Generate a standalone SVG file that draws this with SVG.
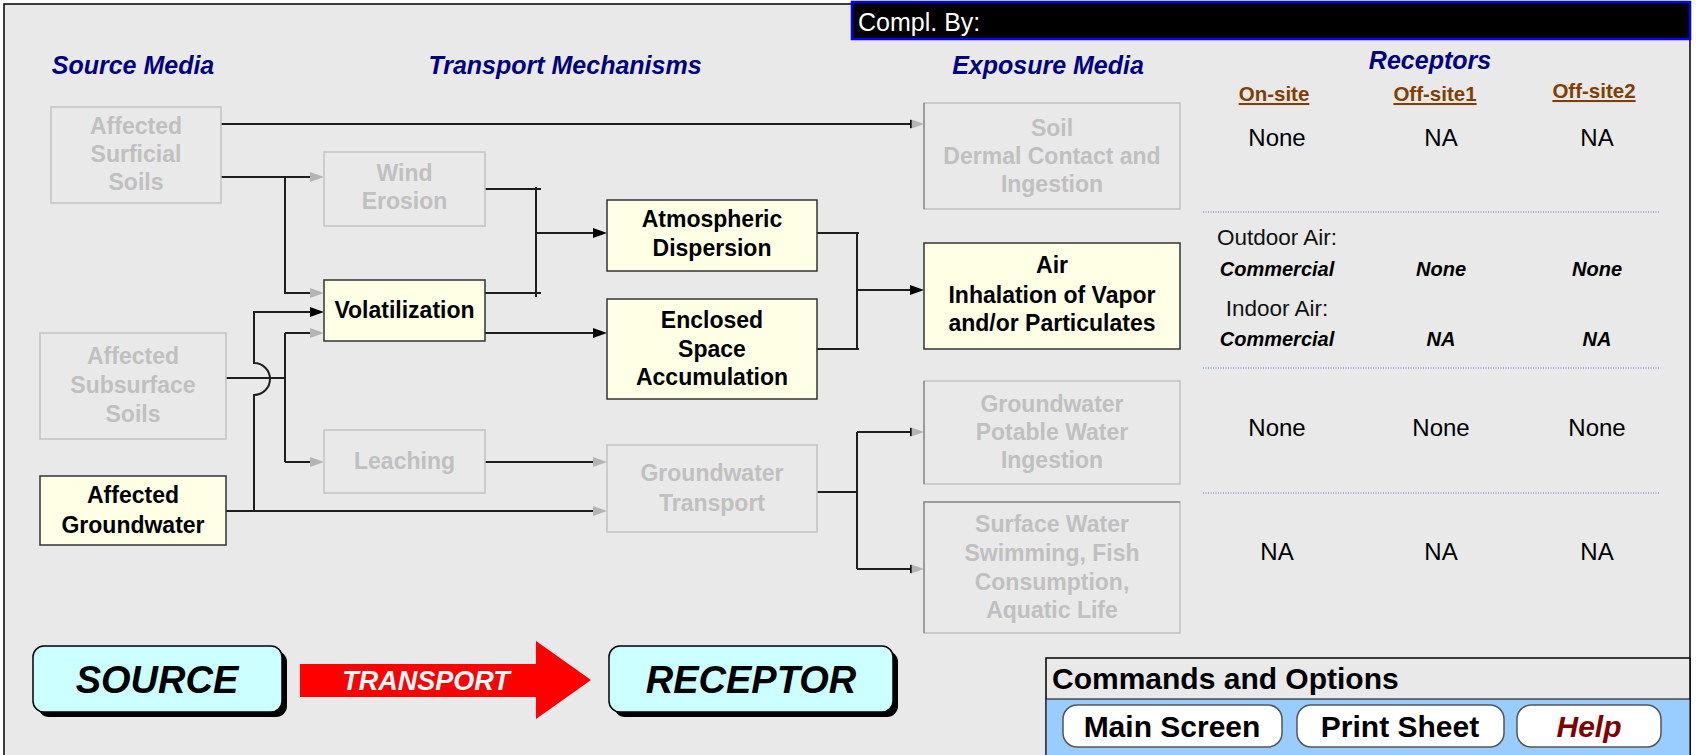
<svg xmlns="http://www.w3.org/2000/svg" width="1699" height="755" viewBox="0 0 1699 755">
  <defs>
    <style>
      .t { font-family: "Liberation Sans", Arial, sans-serif; }
      .head { font-family: "Liberation Sans", Arial, sans-serif; font-size: 25px; font-weight: bold; font-style: italic; fill: #000080; }
      .col { font-family: "Liberation Sans", Arial, sans-serif; font-size: 20.5px; font-weight: bold; fill: #7f3f00; text-decoration: underline; }
      .val { font-family: "Liberation Sans", Arial, sans-serif; font-size: 24px; fill: #000; }
      .sub { font-family: "Liberation Sans", Arial, sans-serif; font-size: 22.5px; fill: #111; }
      .bi { font-family: "Liberation Sans", Arial, sans-serif; font-size: 20px; font-weight: bold; font-style: italic; fill: #000; }
      .box-on { fill: #ffffe6; stroke: #333; stroke-width: 1.5; }
      .box-off { fill: #e9e9e9; stroke: #c2c2c2; stroke-width: 1.5; }
      .edge-off { stroke: #8a8a8a; stroke-width: 1.5; }
      .lbl-on { font-family: "Liberation Sans", Arial, sans-serif; font-size: 23px; font-weight: bold; fill: #000; text-anchor: middle; }
      .lbl-off { font-family: "Liberation Sans", Arial, sans-serif; font-size: 23px; font-weight: bold; fill: #c0c0c0; text-anchor: middle; }
      .wire { fill: none; stroke: #1e1e1e; stroke-width: 2; }
      .sep { stroke: #6b6bff; stroke-width: 1; stroke-dasharray: 1 1.5; }
      .btn { fill: #fff; stroke: #555; stroke-width: 1.5; }
      .btntxt { font-family: "Liberation Sans", Arial, sans-serif; font-size: 30px; font-weight: bold; text-anchor: middle; }
      .big { font-family: "Liberation Sans", Arial, sans-serif; font-size: 38px; font-weight: bold; font-style: italic; text-anchor: middle; fill: #000; }
    </style>
    <marker id="arrowOn" markerUnits="userSpaceOnUse" viewBox="0 0 14 10" refX="0" refY="5" markerWidth="14" markerHeight="10" orient="auto">
      <path d="M0,0 L14,5 L0,10 z" fill="#000"/>
    </marker>
    <marker id="arrowOff" markerUnits="userSpaceOnUse" viewBox="0 0 14 10" refX="0" refY="5" markerWidth="14" markerHeight="10" orient="auto">
      <path d="M0,0 L14,5 L0,10 z" fill="#b4b4b4"/>
    </marker>
    <marker id="arrowOffTick" markerUnits="userSpaceOnUse" viewBox="0 0 14 10" refX="0" refY="5" markerWidth="14" markerHeight="10" orient="auto">
      <path d="M0,0 L14,5 L0,10 z" fill="#b4b4b4"/>
      <path d="M0.8,1 V9" stroke="#000" stroke-width="1.6"/>
    </marker>
  </defs>

  <!-- page and frame -->
  <rect x="0" y="0" width="1699" height="755" fill="#ffffff"/>
  <rect x="4" y="4" width="1686" height="760" fill="#e9e9e9" stroke="#000" stroke-width="1.5"/>

  <!-- completed-by bar -->
  <g id="compl">
    <rect x="852" y="2" width="838" height="37" fill="#000" stroke="#0000ff" stroke-width="2.5"/>
    <text x="858" y="31" class="t" font-size="25" fill="#fff">Compl. By:</text>
  </g>

  <!-- column headings -->
  <g id="headings">
    <text x="133" y="74" class="head" text-anchor="middle">Source Media</text>
    <text x="565" y="74" class="head" text-anchor="middle">Transport Mechanisms</text>
    <text x="1048" y="74" class="head" text-anchor="middle">Exposure Media</text>
    <text x="1430" y="69" class="head" text-anchor="middle">Receptors</text>
  </g>

  <!-- connectors -->
  <g id="connectors">
    <!-- surficial soils -->
    <path class="wire" d="M221,124 H910" marker-end="url(#arrowOffTick)"/>
    <path class="wire" d="M221,177 H310" marker-end="url(#arrowOff)"/>
    <path class="wire" d="M285,176 V293 H310" marker-end="url(#arrowOff)"/>
    <!-- subsurface soils -->
    <path class="wire" d="M226,378 H285"/>
    <path class="wire" d="M285,333 V462"/>
    <path class="wire" d="M285,333 H310" marker-end="url(#arrowOff)"/>
    <path class="wire" d="M285,462 H310" marker-end="url(#arrowOff)"/>
    <!-- groundwater, hopping over the subsurface line -->
    <path class="wire" d="M226,511 H593" marker-end="url(#arrowOff)"/>
    <path class="wire" d="M254,511 V395 A16,16 0 0 0 254,363 V312 H310" marker-end="url(#arrowOn)"/>
    <!-- leaching -->
    <path class="wire" d="M485,462 H593" marker-end="url(#arrowOff)"/>
    <!-- wind erosion + volatilization to atmospheric dispersion -->
    <path class="wire" d="M485,189 H541"/>
    <path class="wire" d="M485,293 H541"/>
    <path class="wire" d="M536,187 V297"/>
    <path class="wire" d="M536,233 H593" marker-end="url(#arrowOn)"/>
    <!-- volatilization to enclosed space -->
    <path class="wire" d="M485,333 H593" marker-end="url(#arrowOn)"/>
    <!-- dispersion + accumulation to air -->
    <path class="wire" d="M817,233 H859"/>
    <path class="wire" d="M817,349 H859"/>
    <path class="wire" d="M857,232 V350"/>
    <path class="wire" d="M857,290 H910" marker-end="url(#arrowOn)"/>
    <!-- groundwater transport to water receptors -->
    <path class="wire" d="M817,492 H857"/>
    <path class="wire" d="M857,432 V569"/>
    <path class="wire" d="M857,432 H910" marker-end="url(#arrowOffTick)"/>
    <path class="wire" d="M857,569 H910" marker-end="url(#arrowOffTick)"/>
  </g>

  <!-- source media -->
  <g id="surficial-soils">
    <rect x="51" y="107" width="170" height="96" class="box-off"/>
    <text x="136" y="134" class="lbl-off">Affected</text>
    <text x="136" y="162" class="lbl-off">Surficial</text>
    <text x="136" y="190" class="lbl-off">Soils</text>
  </g>
  <g id="subsurface-soils">
    <rect x="40" y="333" width="186" height="106" class="box-off"/>
    <text x="133" y="364" class="lbl-off">Affected</text>
    <text x="133" y="393" class="lbl-off">Subsurface</text>
    <text x="133" y="422" class="lbl-off">Soils</text>
  </g>
  <g id="groundwater">
    <rect x="40" y="476" width="186" height="69" class="box-on"/>
    <text x="133" y="503" class="lbl-on">Affected</text>
    <text x="133" y="533" class="lbl-on">Groundwater</text>
  </g>

  <!-- transport mechanisms -->
  <g id="wind-erosion">
    <rect x="324" y="152" width="161" height="74" class="box-off"/>
    <text x="404.5" y="181" class="lbl-off">Wind</text>
    <text x="404.5" y="209" class="lbl-off">Erosion</text>
  </g>
  <g id="volatilization">
    <rect x="324" y="280" width="161" height="61" class="box-on"/>
    <text x="404.5" y="318" class="lbl-on">Volatilization</text>
  </g>
  <g id="leaching">
    <rect x="324" y="430" width="161" height="63" class="box-off"/>
    <text x="404.5" y="469" class="lbl-off">Leaching</text>
  </g>
  <g id="atmospheric-dispersion">
    <rect x="607" y="200" width="210" height="71" class="box-on"/>
    <text x="712" y="227" class="lbl-on">Atmospheric</text>
    <text x="712" y="256" class="lbl-on">Dispersion</text>
  </g>
  <g id="enclosed-space">
    <rect x="607" y="299" width="210" height="100" class="box-on"/>
    <text x="712" y="328" class="lbl-on">Enclosed</text>
    <text x="712" y="357" class="lbl-on">Space</text>
    <text x="712" y="385" class="lbl-on">Accumulation</text>
  </g>
  <g id="groundwater-transport">
    <rect x="607" y="445" width="210" height="87" class="box-off"/>
    <text x="712" y="481" class="lbl-off">Groundwater</text>
    <text x="712" y="511" class="lbl-off">Transport</text>
  </g>

  <!-- exposure media -->
  <g id="soil-exposure">
    <rect x="924" y="103" width="256" height="106" class="box-off"/>
    <line x1="924" y1="103" x2="924" y2="209" class="edge-off"/>
    <text x="1052" y="136" class="lbl-off">Soil</text>
    <text x="1052" y="164" class="lbl-off">Dermal Contact and</text>
    <text x="1052" y="192" class="lbl-off">Ingestion</text>
  </g>
  <g id="air-exposure">
    <rect x="924" y="243" width="256" height="106" class="box-on"/>
    <text x="1052" y="273" class="lbl-on">Air</text>
    <text x="1052" y="303" class="lbl-on">Inhalation of Vapor</text>
    <text x="1052" y="331" class="lbl-on">and/or Particulates</text>
  </g>
  <g id="groundwater-exposure">
    <rect x="924" y="381" width="256" height="103" class="box-off"/>
    <line x1="924" y1="381" x2="924" y2="484" class="edge-off"/>
    <text x="1052" y="412" class="lbl-off">Groundwater</text>
    <text x="1052" y="440" class="lbl-off">Potable Water</text>
    <text x="1052" y="468" class="lbl-off">Ingestion</text>
  </g>
  <g id="surface-water-exposure">
    <rect x="924" y="502" width="256" height="131" class="box-off"/>
    <path d="M1180,502 H924 V633" class="edge-off" fill="none"/>
    <text x="1052" y="532" class="lbl-off">Surface Water</text>
    <text x="1052" y="561" class="lbl-off">Swimming, Fish</text>
    <text x="1052" y="590" class="lbl-off">Consumption,</text>
    <text x="1052" y="618" class="lbl-off">Aquatic Life</text>
  </g>

  <!-- receptor table -->
  <g id="receptors">
    <text x="1274" y="101" class="col" text-anchor="middle">On-site</text>
    <text x="1435" y="101" class="col" text-anchor="middle">Off-site1</text>
    <text x="1594" y="98" class="col" text-anchor="middle">Off-site2</text>

    <text x="1277" y="146" class="val" text-anchor="middle">None</text>
    <text x="1441" y="146" class="val" text-anchor="middle">NA</text>
    <text x="1597" y="146" class="val" text-anchor="middle">NA</text>
    <line x1="1203" y1="212" x2="1659" y2="212" class="sep"/>

    <text x="1277" y="245" class="sub" text-anchor="middle">Outdoor Air:</text>
    <text x="1277" y="276" class="bi" text-anchor="middle">Commercial</text>
    <text x="1441" y="276" class="bi" text-anchor="middle">None</text>
    <text x="1597" y="276" class="bi" text-anchor="middle">None</text>
    <text x="1277" y="316" class="sub" text-anchor="middle">Indoor Air:</text>
    <text x="1277" y="346" class="bi" text-anchor="middle">Commercial</text>
    <text x="1441" y="346" class="bi" text-anchor="middle">NA</text>
    <text x="1597" y="346" class="bi" text-anchor="middle">NA</text>
    <line x1="1203" y1="368" x2="1659" y2="368" class="sep"/>

    <text x="1277" y="436" class="val" text-anchor="middle">None</text>
    <text x="1441" y="436" class="val" text-anchor="middle">None</text>
    <text x="1597" y="436" class="val" text-anchor="middle">None</text>
    <line x1="1203" y1="493" x2="1659" y2="493" class="sep"/>

    <text x="1277" y="560" class="val" text-anchor="middle">NA</text>
    <text x="1441" y="560" class="val" text-anchor="middle">NA</text>
    <text x="1597" y="560" class="val" text-anchor="middle">NA</text>
  </g>

  <!-- source / transport / receptor legend -->
  <g id="source-legend">
    <rect x="38" y="651" width="249" height="66" rx="11" fill="#000"/>
    <rect x="33" y="646" width="249" height="66" rx="11" fill="#ccffff" stroke="#000" stroke-width="1.5"/>
    <text x="157" y="693" class="big">SOURCE</text>
  </g>
  <g id="transport-legend">
    <path d="M300,664 H536 V641 L591,680 L536,719 V697 H300 z" fill="#ff0000"/>
    <text x="426" y="690" class="t" font-size="27" font-weight="bold" font-style="italic" fill="#fff" text-anchor="middle">TRANSPORT</text>
  </g>
  <g id="receptor-legend">
    <rect x="614" y="651" width="284" height="66" rx="11" fill="#000"/>
    <rect x="609" y="646" width="284" height="66" rx="11" fill="#ccffff" stroke="#000" stroke-width="1.5"/>
    <text x="751" y="693" class="big">RECEPTOR</text>
  </g>

  <!-- commands panel -->
  <g id="commands">
    <rect x="1046" y="658" width="644" height="100" fill="#e9e9e9" stroke="#000" stroke-width="1.5"/>
    <rect x="1046.75" y="699" width="642.5" height="58" fill="#99ccff"/>
    <line x1="1046" y1="699" x2="1690" y2="699" stroke="#000" stroke-width="1"/>
    <text x="1052" y="689" class="t" font-size="30" font-weight="bold" fill="#000">Commands and Options</text>
  </g>
  <g id="btn-main">
    <rect x="1063" y="705" width="219" height="42" rx="14" class="btn"/>
    <text x="1172" y="737" class="btntxt" fill="#000">Main Screen</text>
  </g>
  <g id="btn-print">
    <rect x="1297" y="705" width="207" height="42" rx="14" class="btn"/>
    <text x="1400" y="737" class="btntxt" fill="#000">Print Sheet</text>
  </g>
  <g id="btn-help">
    <rect x="1517" y="705" width="144" height="42" rx="14" class="btn"/>
    <text x="1589" y="737" class="btntxt" font-style="italic" fill="#800000">Help</text>
  </g>
</svg>
